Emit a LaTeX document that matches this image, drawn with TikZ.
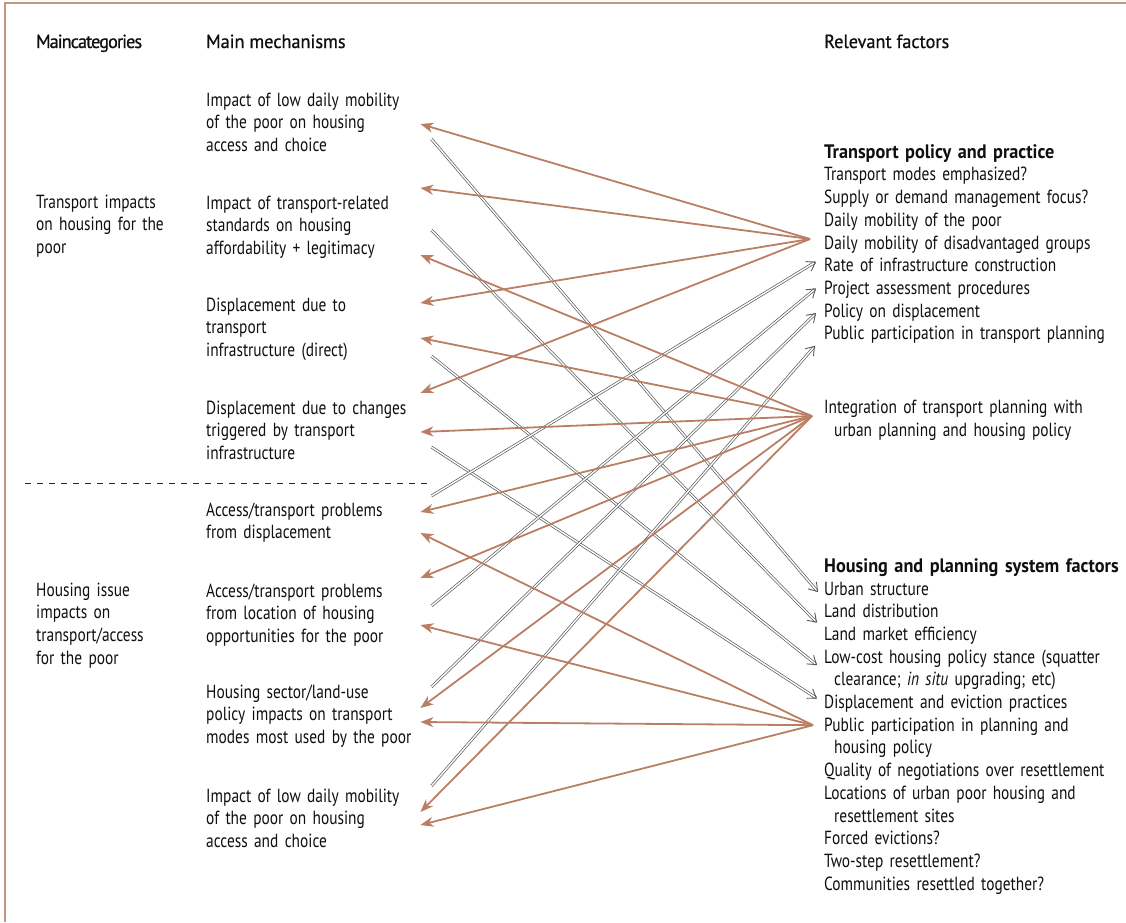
\documentclass[tikz,border=0pt]{standalone}
\usepackage{fontspec}
\setmainfont{PT Sans}[UprightFeatures={FakeStretch=0.81}, ItalicFeatures={FakeStretch=0.81}, BoldFeatures={FakeStretch=0.935}]
\newfontfamily\headfont{PT Sans}[FakeStretch=0.96, FakeBold=0.7]
\usepackage{xcolor}
\usepackage{tikz}
\usetikzlibrary{positioning,calc,arrows.meta}

\definecolor{linkbrown}{RGB}{186,126,100}
\definecolor{framebrown}{RGB}{196,150,130}
\definecolor{twingray}{RGB}{90,90,90}
\definecolor{inkgray}{RGB}{15,15,15}

\begin{document}
\begin{tikzpicture}[
    x=1pt, y=-1pt,
    every node/.style={font=\fontsize{19}{22.7}\selectfont, text=inkgray, inner sep=0pt},
    head/.style={anchor=base west, font=\fontsize{19}{22.7}\selectfont\headfont},
    cat/.style={anchor=base west, align=left, text width=160pt},
    mech/.style={anchor=base west, align=left, text width=214pt},
    factor/.style={anchor=base west, align=left, text width=300pt},
    factorhead/.style={factor, font=\fontsize{19.5}{22.7}\selectfont\bfseries},
    brownarrow/.style={draw=linkbrown, line width=1.8pt, -{Stealth[length=13pt,width=10pt,inset=4pt]}},
    twinarrow/.style={draw=twingray, line width=0.7pt, double=white, double distance=1.4pt, -{Straight Barb[length=8pt,width=11pt,line width=0.9pt]}}
]
\useasboundingbox (0,0) rectangle (1126,922);
\draw[framebrown, line width=1.2pt] (1126,3) -- (5,3) -- (5,922);

% column heads
\node[head] (hcat) at (36,48) {\addfontfeature{LetterSpace=-5}Maincategories};
\node[head] (hmech) at (206,48) {Main mechanisms};
\node[head] (hfac) at (824,48) {Relevant factors};

% main categories
\node[cat] (cat1) at (36,208) {Transport impacts\\on housing for the\\poor};
\node[cat] (cat2) at (36,596) {Housing issue\\impacts on\\transport/access\\for the poor};
\draw[black!85, line width=0.9pt, dash pattern=on 6pt off 6pt] (25,483) -- (428,483);

% main mechanisms
\node[mech] (m1) at (206,106) {Impact of low daily mobility\\of the poor on housing\\access and choice};
\node[mech] (m2) at (206,209) {Impact of transport-related\\standards on housing\\affordability + legitimacy};
\node[mech] (m3) at (206,311) {Displacement due to\\transport\\infrastructure (direct)};
\node[mech] (m4) at (206,414) {Displacement due to changes\\triggered by transport\\infrastructure};
\node[mech] (m5) at (206,516) {Access/transport problems\\from displacement};
\node[mech] (m6) at (206,597) {Access/transport problems\\from location of housing\\opportunities for the poor};
\node[mech] (m7) at (206,698) {Housing sector/land-use\\policy impacts on transport\\modes most used by the poor};
\node[mech] (m8) at (206,802) {Impact of low daily mobility\\of the poor on housing\\access and choice};

% relevant factors: transport
\node[factorhead] (tpol) at (824,158.2) {Transport policy and practice};
\node[factor] (tmodes) at (824,180.9) {Transport modes emphasized?};
\node[factor] (supply) at (824,203.6) {Supply or demand management focus?};
\node[factor] (dmpoor) at (824,226.3) {Daily mobility of the poor};
\node[factor] (dmgroups) at (824,249) {Daily mobility of disadvantaged groups};
\node[factor] (rate) at (824,271.7) {Rate of infrastructure construction};
\node[factor] (proj) at (824,294.4) {Project assessment procedures};
\node[factor] (poldisp) at (824,317.1) {Policy on displacement};
\node[factor] (pubtrans) at (824,339.8) {Public participation in transport planning};
\node[factor] (integ) at (824,413.5) {Integration of transport planning with\\\hspace*{10pt}urban planning and housing policy};

% relevant factors: housing
\node[factorhead] (hpol) at (824,572.3) {Housing and planning system factors};
\node[factor] (urban) at (824,595) {Urban structure};
\node[factor] (landdist) at (824,617.7) {Land distribution};
\node[factor] (landmkt) at (824,640.4) {Land market efficiency};
\node[factor] (lowcost) at (824,663.1) {Low-cost housing policy stance (squatter\\\hspace*{10pt}clearance; \textit{in situ} upgrading; etc)};
\node[factor] (displ) at (824,708.5) {Displacement and eviction practices};
\node[factor] (pubhouse) at (824,731.2) {Public participation in planning and\\\hspace*{10pt}housing policy};
\node[factor] (quality) at (824,776.6) {Quality of negotiations over resettlement};
\node[factor] (locations) at (824,799.3) {Locations of urban poor housing and\\\hspace*{10pt}resettlement sites};
\node[factor] (forced) at (824,844.7) {Forced evictions?};
\node[factor] (twostep) at (824,867.4) {Two-step resettlement?};
\node[factor] (together) at (824,890.1) {Communities resettled together?};

% fan-out points and arrow ends beside the factors
\path (dmgroups.base west) ++(-14,-10) coordinate (tpol_out);
\path (integ.base west) ++(-12,2.5) coordinate (integ_out);
\path (pubhouse.base west) ++(-11,-6) coordinate (hpol_out);
\path (rate.base west) ++(-8,-10) coordinate (rate_in);
\path (proj.base west) ++(-8,-6) coordinate (proj_in);
\path (poldisp.base west) ++(-8,-4) coordinate (poldisp_in);
\path (pubtrans.base west) ++(-9,6) coordinate (pubtrans_in);
\path (urban.base west) ++(-6,-3) coordinate (urban_in);
\path (landdist.base west) ++(-7,5) coordinate (landdist_in);
\path (lowcost.base west) ++(-7,2) coordinate (lowcost_in);
\path (displ.base west) ++(-7,-10) coordinate (displ_in);

% mechanisms -> factors
\draw[twinarrow] ($(m1.east |- 0,139)+(11,0)$) -- (urban_in);
\draw[twinarrow] ($(m2.east |- 0,230)+(11,0)$) -- (landdist_in);
\draw[twinarrow] ($(m3.east |- 0,356)+(11,0)$) -- (lowcost_in);
\draw[twinarrow] ($(m4.east |- 0,447)+(11,0)$) -- (displ_in);
\draw[twinarrow] ($(m5.east |- 0,496)+(11,0)$) -- (rate_in);
\draw[twinarrow] ($(m6.east |- 0,606)+(11,0)$) -- (proj_in);
\draw[twinarrow] ($(m7.east |- 0,687)+(11,0)$) -- (poldisp_in);
\draw[twinarrow] ($(m8.east |- 0,786)+(11,0)$) -- (pubtrans_in);

% factors -> mechanisms
\draw[brownarrow] (tpol_out) -- (m1.east |- 0,124);
\draw[brownarrow] (tpol_out) -- (m2.east |- 0,188);
\draw[brownarrow] (tpol_out) -- (m3.east |- 0,303);
\draw[brownarrow] (tpol_out) -- (m4.east |- 0,393);
\draw[brownarrow] (integ_out) -- (m2.east |- 0,255);
\draw[brownarrow] (integ_out) -- (m3.east |- 0,338);
\draw[brownarrow] (integ_out) -- (m4.east |- 0,432);
\draw[brownarrow] (integ_out) -- (m5.east |- 0,512);
\draw[brownarrow] (integ_out) -- (m6.east |- 0,578);
\draw[brownarrow] (integ_out) -- (m7.east |- 0,708);
\draw[brownarrow] (integ_out) -- (m8.east |- 0,812);
\draw[brownarrow] (hpol_out) -- (m5.east |- 0,533);
\draw[brownarrow] (hpol_out) -- (m6.east |- 0,625);
\draw[brownarrow] (hpol_out) -- (m7.east |- 0,722);
\draw[brownarrow] (hpol_out) -- (m8.east |- 0,825);
\end{tikzpicture}
\end{document}
